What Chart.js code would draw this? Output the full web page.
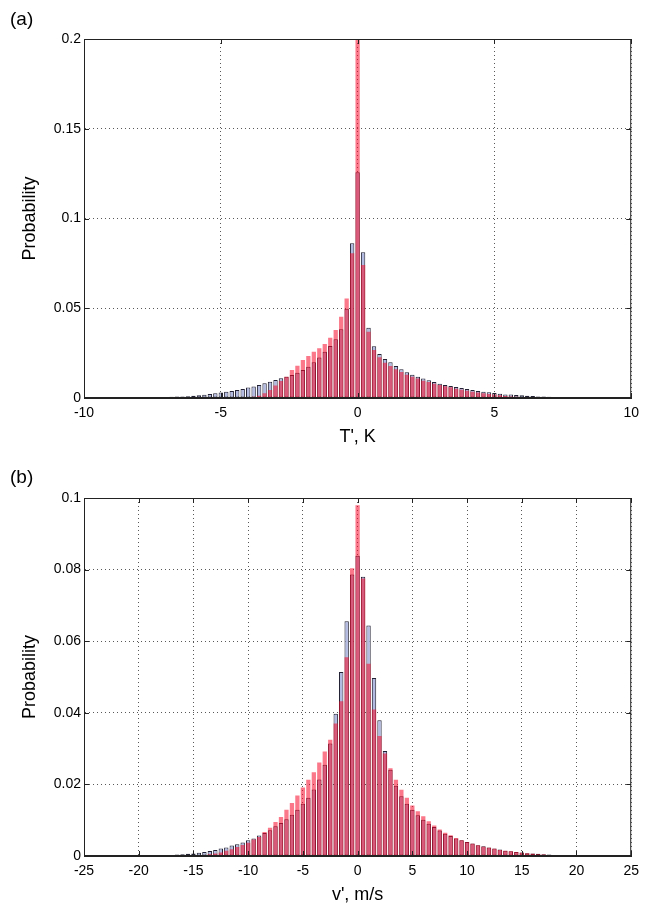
<!DOCTYPE html>
<html>
<head>
<meta charset="utf-8">
<script src="https://cdn.jsdelivr.net/npm/chart.js@4.4.0/dist/chart.umd.min.js"></script>
<style>
    body { margin: 0; background: #fff; width: 646px; height: 912px; position: relative; overflow: hidden; font-family: "Liberation Sans", Arial, sans-serif; }
    .panel { position: absolute; left: 0; width: 646px; height: 456px; }
    .tag { position: absolute; left: 10px; font-size: 19px; color: #000; }
</style>
</head>
<body>
<div class="panel" style="top:0"><canvas id="chartT"></canvas></div>
<div class="panel" style="top:456px"><canvas id="chartV"></canvas></div>
<div class="tag" style="top:8px">(a)</div>
<div class="tag" style="top:466px">(b)</div>
<script>
// (a) temperature fluctuation histogram, bins of 0.2 K starting at -8 K
var tStart = -8.0;
var tStep = 0.2;
var tBlue = [
    0.0002, 0.0003, 0.0003, 0.0004, 0.0005, 0.0006, 0.0007, 0.0008, 0.0009, 0.0010,
    0.0012, 0.0015, 0.0018, 0.0022, 0.0026, 0.0031, 0.0035, 0.0039, 0.0045, 0.0050,
    0.0058, 0.0064, 0.0072, 0.0082, 0.0091, 0.0100, 0.0110, 0.0119, 0.0128, 0.0141,
    0.0156, 0.0174, 0.0199, 0.0225, 0.0258, 0.0290, 0.0327, 0.0383, 0.0497, 0.0862,
    0.1257,
    0.0812, 0.0392, 0.0288, 0.0245, 0.0217, 0.0199, 0.0178, 0.0160, 0.0143, 0.0130,
    0.0119, 0.0108, 0.0099, 0.0089, 0.0080, 0.0072, 0.0067, 0.0061, 0.0056, 0.0050,
    0.0045, 0.0039, 0.0035, 0.0032, 0.0028, 0.0024, 0.0020, 0.0019, 0.0017, 0.0015,
    0.0013, 0.0011, 0.0009, 0.0008, 0.0007, 0.0006, 0.0005, 0.0004, 0.0003, 0.0003,
    0.0002, 0.0002, 0.0002, 0.0001, 0.0001
];
var tRed = [
    0, 0, 0, 0, 0, 0, 0, 0, 0, 0,
    0, 0, 0, 0, 0, 0, 0, 0, 0.0001, 0.0002,
    0.0004, 0.0007, 0.0013, 0.0026, 0.0045, 0.0069, 0.0095, 0.0119, 0.0156, 0.0180,
    0.0212, 0.0234, 0.0258, 0.0277, 0.0301, 0.0336, 0.0379, 0.0453, 0.0555, 0.0806,
    0.2400,
    0.0741, 0.0369, 0.0267, 0.0227, 0.0197, 0.0178, 0.0160, 0.0145, 0.0130, 0.0119,
    0.0108, 0.0096, 0.0089, 0.0080, 0.0072, 0.0065, 0.0060, 0.0052, 0.0046, 0.0041,
    0.0035, 0.0030, 0.0026, 0.0022, 0.0019, 0.0015, 0.0011, 0.0009, 0.0007, 0.0005,
    0.0004, 0.0003, 0.0002, 0.0002, 0.0001, 0, 0, 0, 0, 0,
    0, 0, 0, 0, 0
];

// (b) velocity fluctuation histogram, bins of 0.5 m/s starting at -20 m/s
var vStart = -20.0;
var vStep = 0.5;
var vBlue = [
    0.0001, 0.0001, 0.0001, 0.0002, 0.0002, 0.0003, 0.0003, 0.0004, 0.0005, 0.0006,
    0.0007, 0.0009, 0.0011, 0.0014, 0.0017, 0.0021, 0.0024, 0.0029, 0.0033, 0.0038,
    0.0044, 0.0049, 0.0057, 0.0064, 0.0072, 0.0083, 0.0092, 0.0103, 0.0115, 0.0129,
    0.0146, 0.0163, 0.0186, 0.0214, 0.0255, 0.0314, 0.0397, 0.0514, 0.0656, 0.0786,
    0.0839,
    0.0780, 0.0644, 0.0497, 0.0379, 0.0293, 0.0241, 0.0196, 0.0167, 0.0146, 0.0129,
    0.0114, 0.0101, 0.0090, 0.0081, 0.0071, 0.0062, 0.0056, 0.0049, 0.0044, 0.0039,
    0.0035, 0.0030, 0.0027, 0.0024, 0.0021, 0.0018, 0.0015, 0.0013, 0.0011, 0.0010,
    0.0008, 0.0007, 0.0006, 0.0005, 0.0004, 0.0003, 0.0003, 0.0002, 0.0002, 0.0001,
    0.0001, 0.0001
];
var vRed = [
    0, 0, 0, 0, 0, 0, 0, 0, 0, 0,
    0.0001, 0.0002, 0.0003, 0.0005, 0.0007, 0.0010, 0.0015, 0.0019, 0.0025, 0.0031,
    0.0037, 0.0046, 0.0053, 0.0067, 0.0079, 0.0095, 0.0109, 0.0129, 0.0148, 0.0169,
    0.0191, 0.0213, 0.0234, 0.0261, 0.0292, 0.0325, 0.0370, 0.0432, 0.0555, 0.0804,
    0.0980,
    0.0775, 0.0537, 0.0409, 0.0335, 0.0286, 0.0245, 0.0213, 0.0185, 0.0163, 0.0141,
    0.0125, 0.0111, 0.0097, 0.0085, 0.0074, 0.0065, 0.0058, 0.0050, 0.0044, 0.0039,
    0.0034, 0.0030, 0.0026, 0.0023, 0.0020, 0.0017, 0.0015, 0.0013, 0.0011, 0.0009,
    0.0008, 0.0006, 0.0005, 0.0004, 0.0003, 0.0003, 0.0002, 0.0002, 0.0001, 0.0001,
    0.0001, 0
];

var blueFace = 'rgb(178,186,226)';
var blueEdge = 'rgba(10,10,30,0.9)';
var redFace = 'rgba(245,10,40,0.55)';
var gridColor = 'rgba(70,70,70,0.9)';
var fontFamily = '"Liberation Sans", Arial, Helvetica, sans-serif';

function toPoints(start, step, values) {
    return values.map((v, i) => ({ x: +(start + i * step).toFixed(2), y: v }));
}

function fmt(v) {
    return String(+Number(v).toFixed(3));
}

// box round the plot with inward tick marks, like the matlab axes
const boxPlugin = {
    id: 'box',
    afterDraw(chart) {
        const ctx = chart.ctx;
        const a = chart.chartArea;
        ctx.save();
        ctx.strokeStyle = '#222';
        ctx.lineWidth = 1;
        ctx.strokeRect(a.left + 0.5, a.top + 0.5, a.right - a.left - 1, a.bottom - a.top - 1);
        ctx.beginPath();
        chart.scales.x.ticks.forEach(t => {
            const px = Math.round(chart.scales.x.getPixelForValue(t.value)) + 0.5;
            ctx.moveTo(px, a.bottom); ctx.lineTo(px, a.bottom - 5);
            ctx.moveTo(px, a.top); ctx.lineTo(px, a.top + 5);
        });
        chart.scales.y.ticks.forEach(t => {
            const py = Math.round(chart.scales.y.getPixelForValue(t.value)) + 0.5;
            ctx.moveTo(a.left, py); ctx.lineTo(a.left + 5, py);
            ctx.moveTo(a.right, py); ctx.lineTo(a.right - 5, py);
        });
        ctx.stroke();
        ctx.restore();
    }
};

function makeChart(id, cfg) {
    return new Chart(document.getElementById(id), {
        type: 'bar',
        data: {
            datasets: [
                {
                    label: 'red',
                    data: toPoints(cfg.start, cfg.step, cfg.red),
                    backgroundColor: redFace,
                    borderWidth: 0,
                    grouped: false,
                    order: 0,
                    barPercentage: 0.78,
                    categoryPercentage: 1.0
                },
                {
                    label: 'blue',
                    data: toPoints(cfg.start, cfg.step, cfg.blue),
                    backgroundColor: blueFace,
                    borderColor: blueEdge,
                    borderWidth: 1,
                    borderSkipped: false,
                    grouped: false,
                    order: 1,
                    barPercentage: 0.8,
                    categoryPercentage: 1.0
                }
            ]
        },
        options: {
            responsive: true,
            maintainAspectRatio: false,
            animation: false,
            layout: { padding: { top: cfg.padTop, right: 12, bottom: 0, left: 0 } },
            plugins: { legend: { display: false }, tooltip: { enabled: false } },
            scales: {
                x: {
                    type: 'linear',
                    min: cfg.xMin,
                    max: cfg.xMax,
                    offset: false,
                    afterFit: s => { s.height = cfg.xAxisHeight; },
                    grid: { offset: false, drawTicks: false, color: gridColor, lineWidth: 1 },
                    border: { display: true, color: '#222', dash: [1, 3] },
                    ticks: {
                        stepSize: cfg.xStep,
                        padding: 7,
                        color: '#000',
                        font: { family: fontFamily, size: 14 },
                        maxRotation: 0,
                        callback: v => fmt(v)
                    },
                    title: {
                        display: true,
                        text: cfg.xTitle,
                        color: '#000',
                        font: { family: fontFamily, size: 18 },
                        padding: { top: 0, bottom: cfg.xTitlePad }
                    }
                },
                y: {
                    min: 0,
                    max: cfg.yMax,
                    afterFit: s => { s.width = 84; },
                    grid: { drawTicks: false, color: gridColor, lineWidth: 1 },
                    border: { display: true, color: '#222', dash: [1, 3] },
                    ticks: {
                        stepSize: cfg.yStep,
                        padding: 3,
                        color: '#000',
                        font: { family: fontFamily, size: 14 },
                        callback: v => fmt(v)
                    },
                    title: {
                        display: true,
                        text: 'Probability',
                        color: '#000',
                        font: { family: fontFamily, size: 18 },
                        padding: { top: 19, bottom: 0 }
                    }
                }
            }
        },
        plugins: [boxPlugin]
    });
}

var tChart = makeChart('chartT', {
    start: tStart, step: tStep, blue: tBlue, red: tRed,
    xMin: -10, xMax: 10, xStep: 5, yMax: 0.2, yStep: 0.05,
    xTitle: "T', K", padTop: 39, xAxisHeight: 58, xTitlePad: 8
});

var vChart = makeChart('chartV', {
    start: vStart, step: vStep, blue: vBlue, red: vRed,
    xMin: -25, xMax: 25, xStep: 5, yMax: 0.1, yStep: 0.02,
    xTitle: "v', m/s", padTop: 42, xAxisHeight: 56, xTitlePad: 6
});
</script>
</body>
</html>
